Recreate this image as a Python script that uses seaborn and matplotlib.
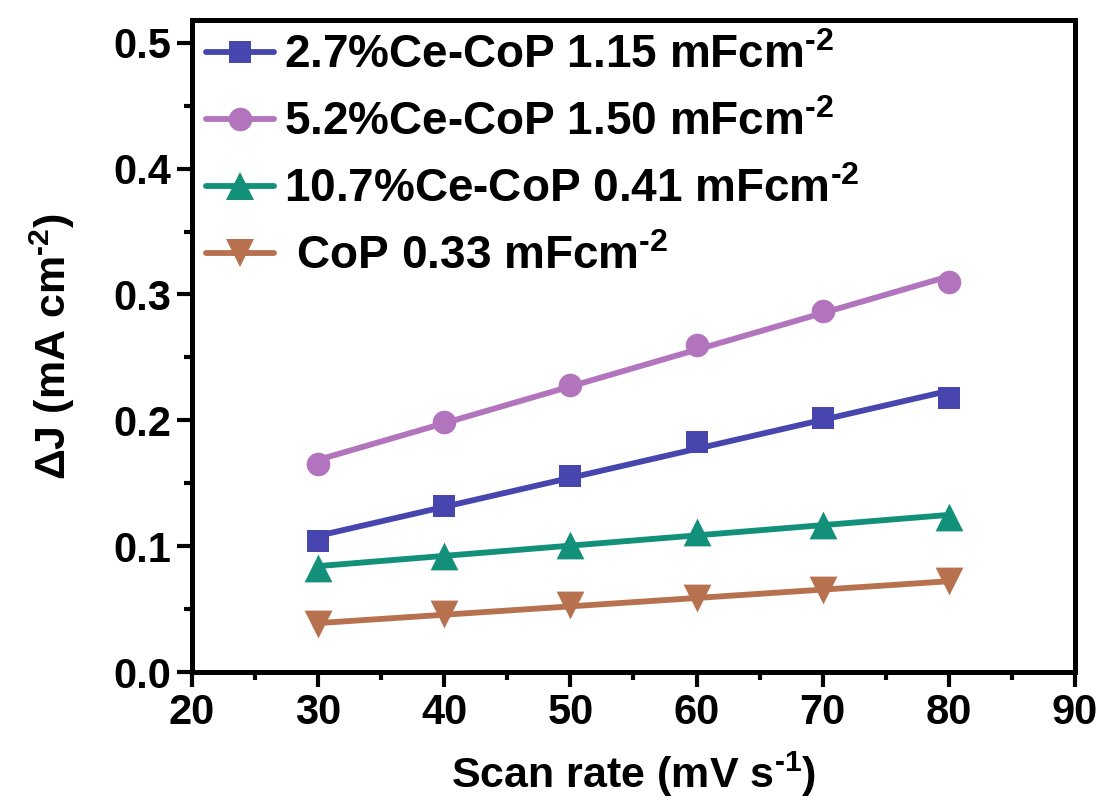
import numpy as np
import pandas as pd
import seaborn as sns
import matplotlib
matplotlib.use("Agg")
import matplotlib.pyplot as plt
from matplotlib.lines import Line2D
from matplotlib.ticker import MultipleLocator, FormatStrFormatter

# Scan rates (mV/s) and current density differences (mA/cm^2)
scan_rate = [30, 40, 50, 60, 70, 80]
dj_ce27 = [0.104, 0.132, 0.156, 0.183, 0.202, 0.218]
dj_ce52 = [0.165, 0.199, 0.228, 0.260, 0.287, 0.310]
dj_ce107 = [0.083, 0.092, 0.101, 0.111, 0.117, 0.123]
dj_cop = [0.038, 0.046, 0.053, 0.059, 0.065, 0.072]

labels = [
    r"2.7%Ce-CoP 1.15 mFcm$^{\text{-2}}$",
    r"5.2%Ce-CoP 1.50 mFcm$^{\text{-2}}$",
    r"10.7%Ce-CoP 0.41 mFcm$^{\text{-2}}$",
    r" CoP 0.33 mFcm$^{\text{-2}}$",
]
series = [dj_ce27, dj_ce52, dj_ce107, dj_cop]
colors = ["#4646AE", "#B274BC", "#12907A", "#B8714F"]
markers = ["s", "o", "^", "v"]
msizes = [16, 17, 20, 20]

sns.set_theme(style="ticks")
plt.rcParams["font.family"] = ["Liberation Sans", "DejaVu Sans"]
plt.rcParams["font.weight"] = "bold"
plt.rcParams["mathtext.fontset"] = "custom"
plt.rcParams["mathtext.rm"] = "Liberation Sans:bold"
plt.rcParams["mathtext.bf"] = "Liberation Sans:bold"
plt.rcParams["mathtext.it"] = "Liberation Sans:bold"
plt.rcParams["mathtext.default"] = "rm"
for key in ["text.color", "axes.labelcolor", "xtick.color", "ytick.color", "axes.edgecolor"]:
    plt.rcParams[key] = "black"

fig = plt.figure(figsize=(11.07, 8.05), dpi=100)
ax = fig.add_axes([0.1734, 0.1652, 0.7977, 0.8098])

handles = []
for lab, ys, c, m, ms in zip(labels, series, colors, markers, msizes):
    df = pd.DataFrame({"rate": scan_rate, "dj": ys})
    sns.regplot(data=df, x="rate", y="dj", ax=ax, ci=None, color=c,
                marker=m, scatter_kws={"s": ms ** 2, "linewidths": 0, "alpha": 1},
                line_kws={"lw": 4.2})
    handles.append(Line2D([], [], color=c, lw=4.2, marker=m, markersize=ms,
                          markeredgewidth=0))

ax.set_xlim(20, 90)
ax.set_ylim(0, 0.518)
ax.xaxis.set_major_locator(MultipleLocator(10))
ax.xaxis.set_minor_locator(MultipleLocator(5))
ax.yaxis.set_major_locator(MultipleLocator(0.1))
ax.yaxis.set_minor_locator(MultipleLocator(0.05))
ax.yaxis.set_major_formatter(FormatStrFormatter("%.1f"))

for side in ["left", "bottom", "right", "top"]:
    ax.spines[side].set_linewidth(3.6)
    ax.spines[side].set_color("black")
ax.tick_params(which="major", direction="out", length=11, width=3, color="black",
               labelsize=30, pad=4, top=False, right=False, labelcolor="black")
ax.tick_params(which="minor", direction="out", length=6, width=3, color="black",
               top=False, right=False)
for t in ax.get_xticklabels() + ax.get_yticklabels():
    t.set_fontweight("bold")

ax.set_xlabel(r"Scan rate (mV s$^{\text{-1}}$)", fontsize=31, fontweight="bold",
              labelpad=12, color="black")
ax.set_ylabel(r"ΔJ (mA cm$^{\text{-2}}$)", fontsize=31, fontweight="bold",
              labelpad=26, color="black")

leg = ax.legend(handles, labels, loc="upper left", frameon=False, fontsize=33,
                handlelength=1.5, handletextpad=0.2, labelspacing=0.5,
                borderaxespad=0.2, borderpad=0.1)
for t in leg.get_texts():
    t.set_fontweight("bold")
    t.set_color("black")

fig.savefig("out.png", dpi=100, facecolor="white")
